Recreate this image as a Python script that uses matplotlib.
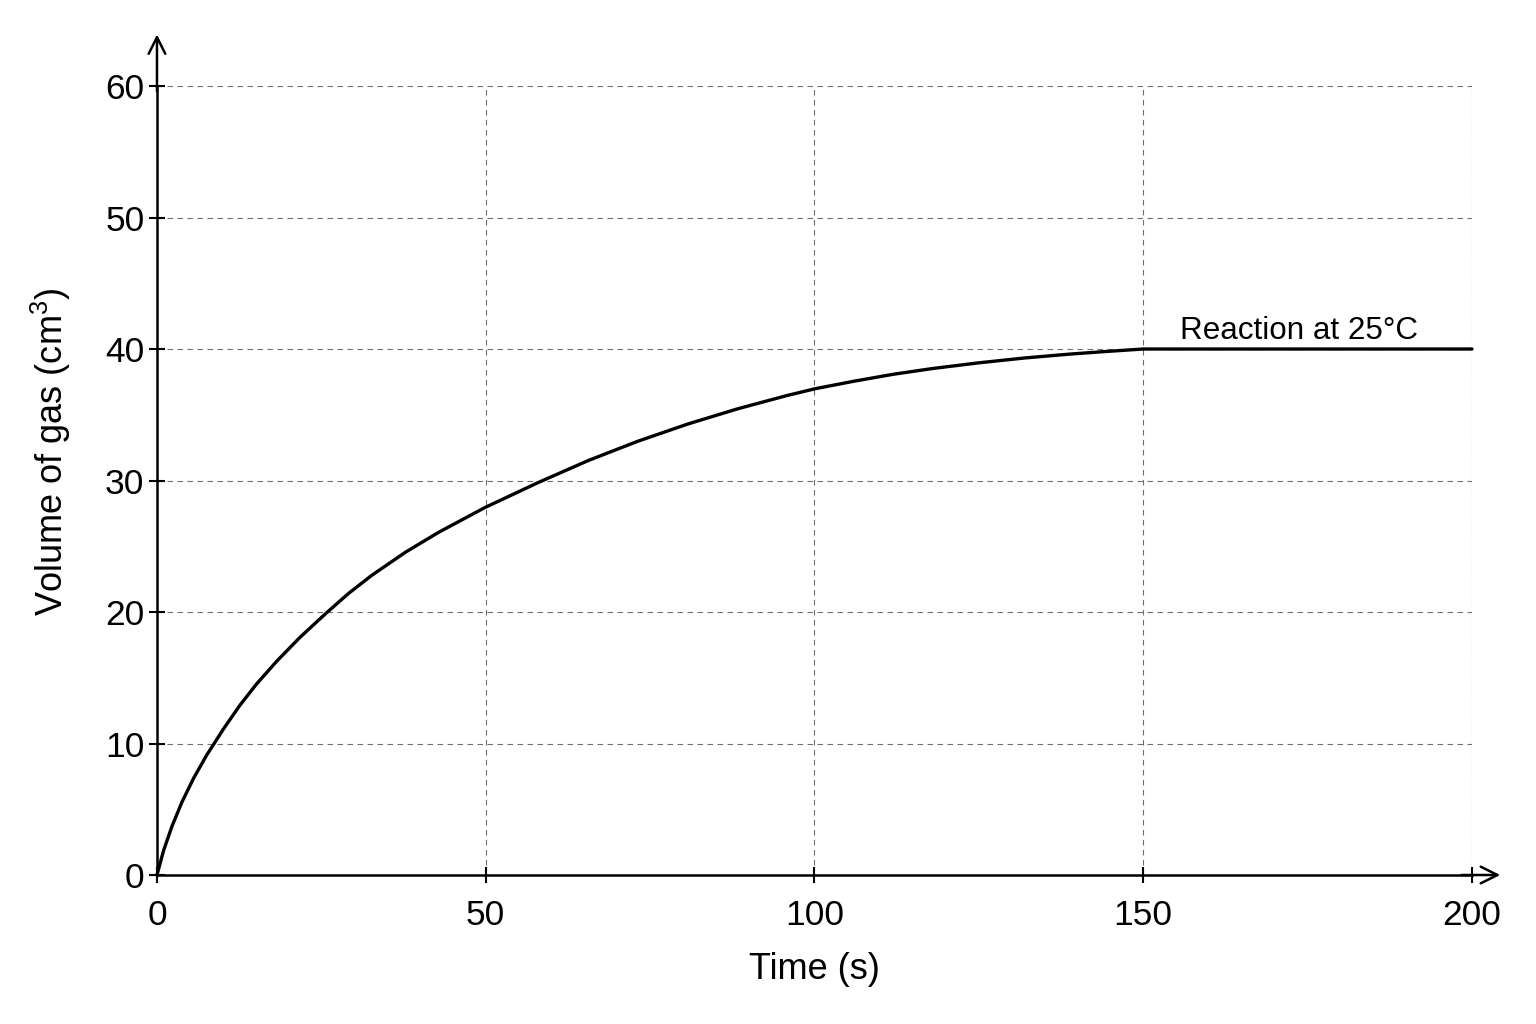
import matplotlib
matplotlib.use("Agg")
from matplotlib import pyplot as plt

# values
time_s = [0, 1.0, 2.3, 3.8, 5.6, 7.6, 8.7, 10.1, 12.6, 15.1, 18.2, 21.7, 25.7,
          29.2, 32.7, 37.8, 42.8, 49.9, 58.0, 65.6, 73.1, 80.7, 88.3, 95.8,
          100.1, 106, 112, 118, 125, 132, 139, 144, 150, 200]
volume_cm3 = [0, 1.86, 3.73, 5.55, 7.39, 9.15, 10.0, 11.1, 12.9, 14.5, 16.25, 18.05, 19.9,
              21.44, 22.8, 24.55, 26.05, 27.95, 29.85, 31.52, 32.98, 34.29, 35.45, 36.46,
              36.98, 37.55, 38.08, 38.52, 38.95, 39.32, 39.62, 39.8, 40, 40]
x_ticks = [0, 50, 100, 150, 200]
y_ticks = [0, 10, 20, 30, 40, 50, 60]
curve_label = "Reaction at 25°C"

plt.rcParams['font.family'] = ['Liberation Sans', 'DejaVu Sans']
plt.rcParams['mathtext.fontset'] = 'custom'
plt.rcParams['mathtext.rm'] = 'Liberation Sans'
plt.rcParams['mathtext.it'] = 'Liberation Sans'

fig = plt.figure(figsize=(15.36, 10.24), dpi=100)
ax = fig.add_axes([0.1022, 0.1455, 0.8561, 0.7705])

ax.plot(time_s, volume_cm3, color="black", linewidth=2.4, solid_capstyle="round",
        solid_joinstyle="round", clip_on=False, zorder=3)
ax.text(173.7, 40.2, curve_label, ha="center", va="bottom", fontsize=22.6)

ax.set_xlim(0, 200)
ax.set_ylim(0, 60)
ax.set_xticks(x_ticks)
ax.set_yticks(y_ticks)
ax.grid(True, linestyle=(0, (5, 4)), color="#6f6f6f", linewidth=0.8)

for side in ["top", "right"]:
    ax.spines[side].set_visible(False)
for side in ["left", "bottom"]:
    ax.spines[side].set_linewidth(1.8)
    ax.spines[side].set_zorder(4)

ax.tick_params(axis="both", direction="inout", length=12, width=1.5, labelsize=25.5)
ax.tick_params(axis="x", pad=11)
ax.tick_params(axis="y", pad=3)

ax.set_xlabel("Time (s)", fontsize=26, labelpad=15)
ax.set_ylabel("Volume of gas (cm$^3$)", fontsize=26)
ax.yaxis.set_label_coords(-0.064, 0.536)

# arrow heads on both axes
ax.annotate("", xy=(0, 1.069), xytext=(0, 0.99), xycoords="axes fraction",
            arrowprops=dict(arrowstyle="->", color="black", lw=1.8, mutation_scale=30))
ax.annotate("", xy=(1.0236, 0), xytext=(0.99, 0), xycoords="axes fraction",
            arrowprops=dict(arrowstyle="->", color="black", lw=1.8, mutation_scale=30))

fig.savefig("out.png", dpi=100, facecolor="white")
